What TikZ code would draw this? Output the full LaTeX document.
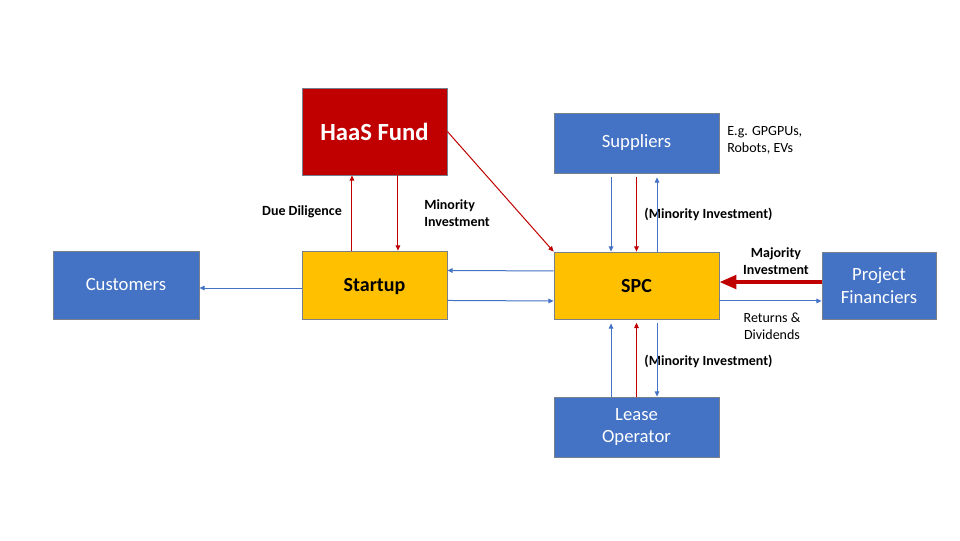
\documentclass[tikz,border=0pt]{standalone}
\usepackage{fontspec}
\setmainfont{Carlito}
\definecolor{BoxBlue}{RGB}{68, 114, 196}
\definecolor{BoxYellow}{RGB}{255, 192, 0}
\definecolor{FundRed}{RGB}{192, 0, 0}
\definecolor{FlowBlue}{RGB}{68, 114, 196}
\definecolor{BoxLine}{RGB}{120, 128, 140}
\usetikzlibrary{arrows.meta, positioning}

\tikzset{
  box/.style 2 args={draw=BoxLine, line width=0.6pt, minimum width=#1*0.75pt, minimum height=#2*0.75pt, align=center, inner sep=0pt},
  bluebox/.style={fill=BoxBlue, text=white, font=\fontsize{14}{17}\selectfont},
  yellowbox/.style={fill=BoxYellow, text=black, text depth=0pt, font=\fontsize{15}{18}\selectfont\bfseries},
  redbox/.style={fill=FundRed, text=white, font=\fontsize{18.5}{22}\selectfont\bfseries},
  flowblue/.style={draw=FlowBlue, line width=0.75pt, -{Triangle[length=4pt, width=3.5pt]}},
  flowred/.style={draw=FundRed, line width=0.75pt, -{Triangle[length=4pt, width=3.5pt]}},
  note/.style={font=\fontsize{10.5}{12.75}\selectfont, align=left, inner sep=0pt},
  boldnote/.style={note, font=\fontsize{10.5}{12.75}\selectfont\bfseries}
}

\begin{document}
\begin{tikzpicture}[x=0.75pt, y=-0.75pt]
  \useasboundingbox (0,0) rectangle (960,540);

  % boxes
  \node[box={145}{87}, redbox] (haas) at (374.5, 131.5) {HaaS Fund};
  \node[box={145}{68}, yellowbox] (startup) at (374.5, 285) {Startup};
  \node[box={146}{68}, bluebox] (customers) at (126, 285) {Customers};
  \node[box={165}{60}, bluebox] (suppliers) at (636.5, 143) {Suppliers};
  \node[box={165}{67}, yellowbox] (spc) at (636.5, 285.5) {SPC};
  \node[box={114}{67}, bluebox] (financiers) at (879, 285.5) {Project\\Financiers};
  \node[box={165}{60}, bluebox] (lease) at (636.5, 427) {Lease\\Operator};

  % labels
  \node[boldnote, align=center] (diligence) at (302, 212) {Due Diligence};
  \node[boldnote, anchor=west] (minority) at (424, 213.5) {Minority\\Investment};
  \node[note, anchor=west] (examples) at (727, 140) {E.g. GPGPUs,\\Robots, EVs};
  \node[boldnote] (mintop) at (708.5, 214) {(Minority Investment)};
  \node[boldnote, align=center] (majority) at (776, 261) {Majority\\Investment};
  \node[note, align=center] (returns) at (772, 326.5) {Returns \&\\Dividends};
  \node[boldnote] (minbottom) at (708.5, 361) {(Minority Investment)};

  % flows
  \draw[flowblue] ([yshift=-2.25pt]startup.west) -- ([yshift=-2.25pt]customers.east);
  \draw[flowred] ([xshift=-16.9pt]startup.north) -- ([xshift=-16.9pt]haas.south);
  \draw[flowred] ([xshift=17.6pt]haas.south) -- ([xshift=17.6pt]startup.north);
  \draw[flowred] (haas.east) -- (spc.north west);
  \draw[flowblue] ([yshift=10.9pt]spc.west) -- ([yshift=10.9pt]startup.east);
  \draw[flowblue] ([yshift=-11.6pt]startup.east) -- ([yshift=-11.6pt]spc.west);

  \draw[flowblue, shorten <=3pt] ([xshift=-19.1pt]suppliers.south) -- ([xshift=-19.1pt]spc.north);
  \draw[flowred, shorten <=3pt] (suppliers.south) -- (spc.north);
  \draw[flowblue, shorten >=3pt] ([xshift=15.4pt]spc.north) -- ([xshift=15.4pt]suppliers.south);

  \draw[flowblue, shorten >=3pt] ([xshift=-19.1pt]lease.north) -- ([xshift=-19.1pt]spc.south);
  \draw[flowred, shorten >=2.5pt] (lease.north) -- (spc.south);
  \draw[flowblue, shorten <=2.5pt] ([xshift=15.4pt]spc.south) -- ([xshift=15.4pt]lease.north);

  \draw[draw=FundRed, line width=3pt, -{Triangle[length=12.75pt, width=10pt]}] ([yshift=2.6pt]financiers.west) -- ([yshift=2.6pt]spc.east);
  \draw[flowblue] ([yshift=-11.6pt]spc.east) -- ([yshift=-11.6pt]financiers.west);
\end{tikzpicture}
\end{document}
